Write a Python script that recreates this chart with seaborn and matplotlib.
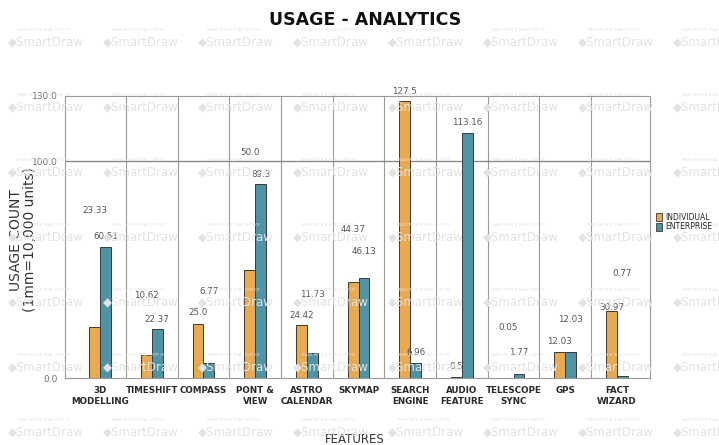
import matplotlib
matplotlib.use("Agg")
import matplotlib.pyplot as plt
import seaborn as sns
import pandas as pd
from matplotlib.patches import Patch

features = ["3D\nMODELLING", "TIMESHIFT", "COMPASS", "PONT &\nVIEW", "ASTRO\nCALENDAR",
            "SKYMAP", "SEARCH\nENGINE", "AUDIO\nFEATURE", "TELESCOPE\nSYNC", "GPS",
            "FACT\nWIZARD"]
individual = [23.33, 10.62, 25.0, 50.0, 24.42, 44.37, 127.5, 0.5, 0.05, 12.03, 30.97]
enterprise = [60.51, 22.37, 6.77, 89.3, 11.73, 46.13, 6.96, 113.16, 1.77, 12.03, 0.77]
series = ["INDIVIDUAL", "ENTERPRISE"]
y_ticks = [0.0, 100.0, 130.0]

# how far each value label sits above its bar, in pixels
ind_lift = [117, 59, 11, 117, 10, 52, 10, 10, 50, 10, 3]
ent_lift = [10, 10, 72, 10, 58, 26, 10, 10, 22, 32, 103]

colors = {"INDIVIDUAL": "#E9A94E", "ENTERPRISE": "#4E93A6"}

df = pd.DataFrame({
    "feature": features * 2,
    "value": individual + enterprise,
    "series": [series[0]] * len(features) + [series[1]] * len(features),
})

sns.set_style("white")
fig = plt.figure(figsize=(7.19, 4.45), dpi=100)

# faint trial watermark tiles behind everything
for row in range(7):
    for col in range(8):
        x = (8 + col * 95) / 719
        y = 1 - (42 + row * 65) / 445
        fig.text(x + 0.012, y + 0.027, "MADE WITH A TRIAL COPY OF", fontsize=2.6,
                 color="#e2e2e2", va="center", zorder=0)
        fig.text(x, y, "\u25c6SmartDraw", fontsize=8.5, color="#e3e3e3",
                 va="center", zorder=0)

ax = fig.add_axes([65 / 719, 1 - 378 / 445, (650 - 65) / 719, (378 - 96) / 445])
ax.patch.set_alpha(0)

sns.barplot(data=df, x="feature", y="value", hue="series", palette=colors,
            width=0.42, edgecolor="#3a3a3a", linewidth=0.7, saturation=1,
            legend=False, ax=ax, zorder=3)

ax.set_ylim(0, 130)
ax.set_xlim(-0.68, 10.64)

# category separators and the 100 reference line
for b in range(len(features) - 1):
    ax.axvline(b + 0.5, color="#9a9a9a", lw=0.8, zorder=1)
ax.axhline(100, color="#8a8a8a", lw=1.0, zorder=1)
ax.set_xticks([b + 0.5 for b in range(len(features) - 1)], minor=True)
ax.tick_params(axis="x", which="minor", length=7, color="#9a9a9a", width=0.8)
ax.tick_params(axis="x", which="major", length=0, pad=6)

for s in ax.spines.values():
    s.set_color("#9a9a9a")
    s.set_linewidth(0.8)

ax.set_yticks(y_ticks)
ax.set_yticklabels([f"{v:.1f}" for v in y_ticks], fontsize=6.5, color="#707070")
ax.tick_params(axis="y", length=4, color="#9a9a9a", pad=1)

for lbl in ax.get_xticklabels():
    lbl.set_fontsize(6.3)
    lbl.set_fontweight("bold")
    lbl.set_color("#2a2a2a")
    lbl.set_linespacing(1.3)

# value labels
bars = ax.patches
n = len(features)
for i in range(n):
    for vals, lifts, k in ((individual, ind_lift, 0), (enterprise, ent_lift, 1)):
        bar = bars[k * n + i]
        ax.annotate(f"{vals[i]}", (bar.get_x() + bar.get_width() / 2, vals[i]),
                    xytext=(0, lifts[i]), textcoords="offset pixels",
                    ha="center", va="center", fontsize=6.3, color="#555555",
                    zorder=5)

ax.set_xlabel("FEATURES", fontsize=8.5, color="#333333")
ax.xaxis.set_label_coords(0.495, -0.195)
ax.set_ylabel("USAGE COUNT\n(1mm=10,000 units)", fontsize=10, color="#333333",
              linespacing=1.0)
ax.yaxis.set_label_coords(-0.048, 0.49)

fig.text(0.508, 0.955, "USAGE - ANALYTICS", ha="center", va="center",
         fontsize=12.5, fontweight="heavy", color="#111111")

handles = [Patch(facecolor=colors[s], edgecolor="#3a3a3a", linewidth=0.6) for s in series]
fig.legend(handles, series, loc="center left", bbox_to_anchor=(653 / 719, 1 - 222 / 445),
           frameon=False, handlelength=0.8, handleheight=1.2,
           handletextpad=0.4, labelspacing=0.1, borderaxespad=0,
           prop={"size": 5.5})

fig.savefig("out.png", dpi=100)
